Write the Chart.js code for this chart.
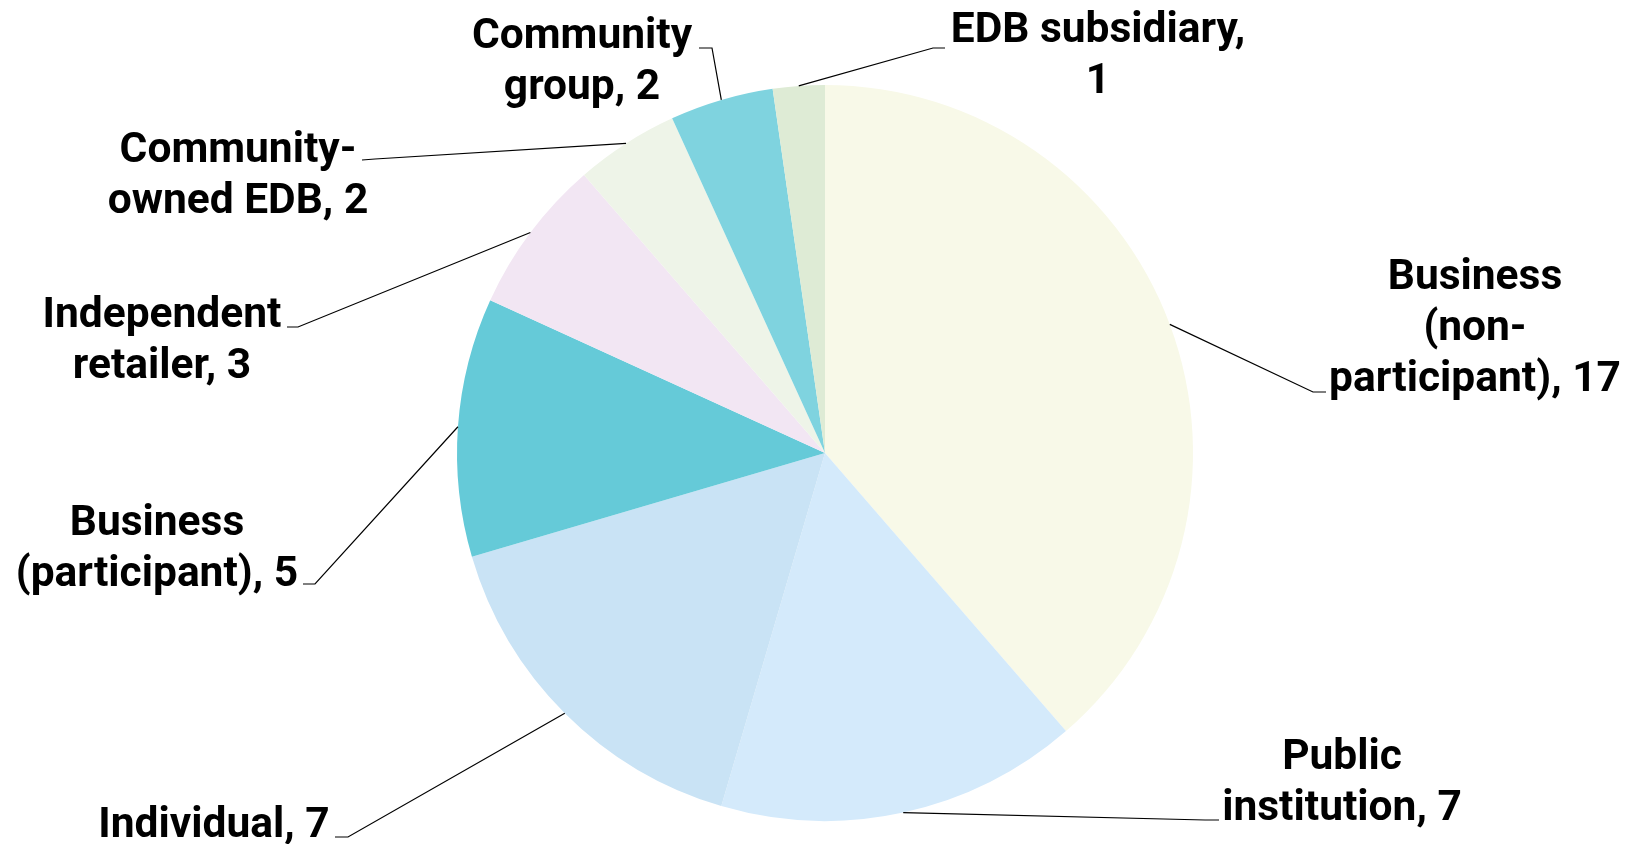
<!DOCTYPE html>
<html>
<head>
<meta charset="utf-8">
<script src="https://cdn.jsdelivr.net/npm/chart.js@4.4.1/dist/chart.umd.min.js"></script>
<style>
  html, body { margin: 0; padding: 0; background: #fff; }
  #wrap { width: 1627px; height: 844px; }
</style>
</head>
<body>
<div id="wrap"><canvas id="pie" width="1627" height="844"></canvas></div>
<script>
// data, clockwise from 12 o'clock
const categories = [
    'Business (non-participant)', 'Public institution', 'Individual',
    'Business (participant)', 'Independent retailer', 'Community-owned EDB',
    'Community group', 'EDB subsidiary'
];
const counts = [17, 7, 7, 5, 3, 2, 2, 1];
const sliceColors = [
    '#F8F9E8', '#D4EAFB', '#C9E3F5', '#65CAD8',
    '#F2E6F3', '#EEF4E8', '#7FD3DF', '#DEEBD5'
];
// how each label wraps (Excel-style)
const labelLines = [
    ['Business', '(non-', 'participant), 17'],
    ['Public', 'institution, 7'],
    ['Individual, 7'],
    ['Business', '(participant), 5'],
    ['Independent', 'retailer, 3'],
    ['Community-', 'owned EDB, 2'],
    ['Community', 'group, 2'],
    ['EDB subsidiary,', '1']
];

// label placement: text centre x, first baseline, leader elbow and end
const labelLayout = [
    { cx: 1475, base: 289, elbow: [1313, 392], end: [1326, 392] },
    { cx: 1342, base: 769, elbow: [1205, 820], end: [1219, 820] },
    { cx: 214,  base: 837, elbow: [348, 837],  end: [335, 837] },
    { cx: 157,  base: 535, elbow: [315, 584],  end: [303, 584] },
    { cx: 162,  base: 327, elbow: [298, 327],  end: [287, 327] },
    { cx: 238,  base: 162, elbow: [375, 159],  end: [362, 160] },
    { cx: 582,  base: 48,  elbow: [712, 48],   end: [699, 48] },
    { cx: 1098, base: 42,  elbow: [933, 48],   end: [945, 48] }
];
const lineHeight = 51;
const labelFont = 'bold 42.5px Roboto';

const leaderLabels = {
    id: 'leaderLabels',
    afterDraw(chart) {
        const ctx = chart.ctx;
        const arcs = chart.getDatasetMeta(0).data;
        ctx.save();
        arcs.forEach(function (arc, i) {
            const p = arc.getProps(['x', 'y', 'startAngle', 'endAngle', 'outerRadius'], true);
            const mid = (p.startAngle + p.endAngle) / 2;
            const ex = p.x + Math.cos(mid) * p.outerRadius;
            const ey = p.y + Math.sin(mid) * p.outerRadius;
            const lay = labelLayout[i];

            ctx.strokeStyle = '#000';
            ctx.lineWidth = 1.2;
            ctx.beginPath();
            ctx.moveTo(ex, ey);
            ctx.lineTo(lay.elbow[0], lay.elbow[1]);
            ctx.lineTo(lay.end[0], lay.end[1]);
            ctx.stroke();

            ctx.fillStyle = '#000';
            ctx.font = labelFont;
            ctx.textAlign = 'center';
            ctx.textBaseline = 'alphabetic';
            labelLines[i].forEach(function (t, k) {
                ctx.fillText(t, lay.cx, lay.base + k * lineHeight);
            });
        });
        ctx.restore();
    }
};

function draw() {
    new Chart(document.getElementById('pie'), {
        type: 'pie',
        data: {
            labels: categories,
            datasets: [{
                data: counts,
                backgroundColor: sliceColors,
                borderWidth: 0
            }]
        },
        options: {
            responsive: false,
            animation: false,
            layout: { padding: { left: 457, right: 434, top: 85, bottom: 23 } },
            plugins: {
                legend: { display: false },
                tooltip: { enabled: false }
            }
        },
        plugins: [leaderLabels]
    });
}

if (document.fonts && document.fonts.load) {
    document.fonts.load(labelFont).then(draw, draw);
} else {
    draw();
}
</script>
</body>
</html>
